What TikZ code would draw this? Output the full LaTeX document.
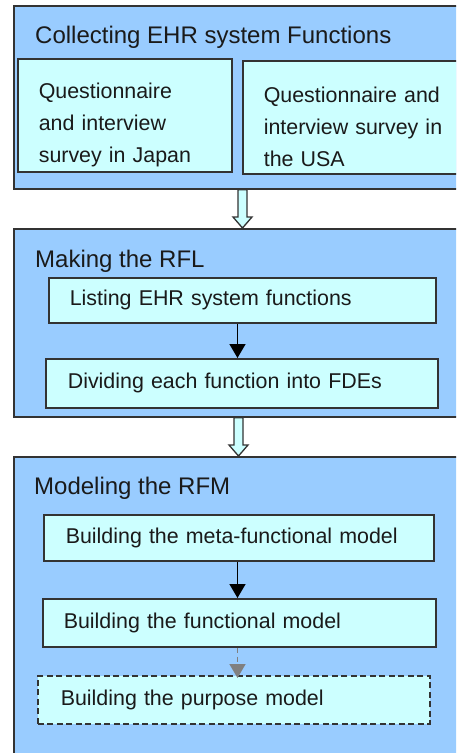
\documentclass[tikz,border=0pt]{standalone}
\usepackage{fontspec}
\setmainfont{Liberation Sans}
\usetikzlibrary{arrows.meta,calc}
\definecolor{stagefill}{HTML}{99CCFF}
\definecolor{stepfill}{HTML}{CCFFFF}
\definecolor{edgegray}{HTML}{333333}
\definecolor{inktext}{HTML}{1A1A1A}
\definecolor{softarrow}{HTML}{808080}
% extra room above the first line of a multi-line step
\newcommand{\toppad}{\rule{0pt}{35pt}}
\begin{document}
\begin{tikzpicture}[x=1pt,y=-1pt,
  stage/.style={draw=edgegray,line width=1.6pt,fill=stagefill,rectangle,
    anchor=north west,inner sep=0pt},
  task/.style={draw=edgegray,line width=1.6pt,fill=stepfill,rectangle,
    anchor=north west,inner xsep=21pt,inner ysep=0pt,align=left,
    font=\fontsize{21.4}{32}\selectfont,text=inktext},
  stagetitle/.style={anchor=base west,inner sep=0pt,
    font=\fontsize{24}{28}\selectfont,text=inktext},
  flow/.style={draw=black,line width=1.5pt,-{Triangle[width=16pt,length=14pt]}},
  maybeflow/.style={draw=softarrow,line width=1.5pt,dash pattern=on 5pt off 4pt,
    -{Triangle[width=16pt,length=14pt]}},
  hollow/.style={draw=edgegray,line width=1.3pt,fill=stepfill,
    to path={let \p1=(\tikztostart), \p2=(\tikztotarget) in
      (\x1-4.5pt,\y1) -- (\x1-4.5pt,\y2+11pt) -- (\x1-9.5pt,\y2+11pt)
      -- (\x1,\y2) -- (\x1+9.5pt,\y2+11pt) -- (\x1+4.5pt,\y2+11pt)
      -- (\x1+4.5pt,\y1) -- cycle}}]

\useasboundingbox (0,0) rectangle (456,753);
\fill[white] (0,0) rectangle (456,753);
\clip (0,0) rectangle (456,753);

% stage 1: collecting functions
\node[stage,minimum width=470pt,minimum height=183pt] (s1) at (13,5) {};
\node[stagetitle] (t1) at (35,43) {Collecting EHR system Functions};
\node[task,text width=172pt,minimum height=113pt] (japan) at (17,58)
  {\toppad Questionnaire\\and interview\\survey in Japan};
\node[task,text width=198pt,minimum height=113pt] (usa) at (242,60)
  {\toppad Questionnaire and\\interview survey in\\the USA};

% stage 2: making the RFL
\node[stage,minimum width=470pt,minimum height=188pt] (s2) at (13,228) {};
\node[stagetitle] (t2) at (35,267) {Making the RFL};
\node[task,text width=345pt,minimum height=45pt] (listing) at (48,277)
  {Listing EHR system functions};
\node[task,text width=348pt,inner xsep=22pt,minimum height=49pt] (divide) at (45,358)
  {Dividing each function into FDEs};

% stage 3: modeling the RFM
\node[stage,minimum width=470pt,minimum height=320pt] (s3) at (13,456) {};
\node[stagetitle] (t3) at (34,494) {Modeling the RFM};
\node[task,text width=346pt,inner xsep=22pt,minimum height=46pt] (meta) at (43,514)
  {Building the meta-functional model};
\node[task,text width=351pt,minimum height=48pt] (func) at (42,598)
  {Building the functional model};
\node[task,dash pattern=on 6pt off 3.5pt,text width=346pt,inner xsep=23pt,
  minimum height=48pt] (purpose) at (37,675)
  {Building the purpose model};

% arrow columns
\coordinate (c1) at (242.5,0);
\coordinate (c2) at (238.5,0);
\coordinate (c3) at (237.5,0);

% hollow arrows between stages
\draw[hollow] (s1.south -| c1) to (s2.north -| c1);
\draw[hollow] (s2.south -| c2) to (s3.north -| c2);

% arrows inside stages
\draw[flow] (listing.south -| c3) -- (divide.north -| c3);
\draw[flow] (meta.south -| c3) -- (func.north -| c3);
\draw[maybeflow] (func.south -| c3) -- ([yshift=-3pt]purpose.north -| c3);
\end{tikzpicture}
\end{document}
